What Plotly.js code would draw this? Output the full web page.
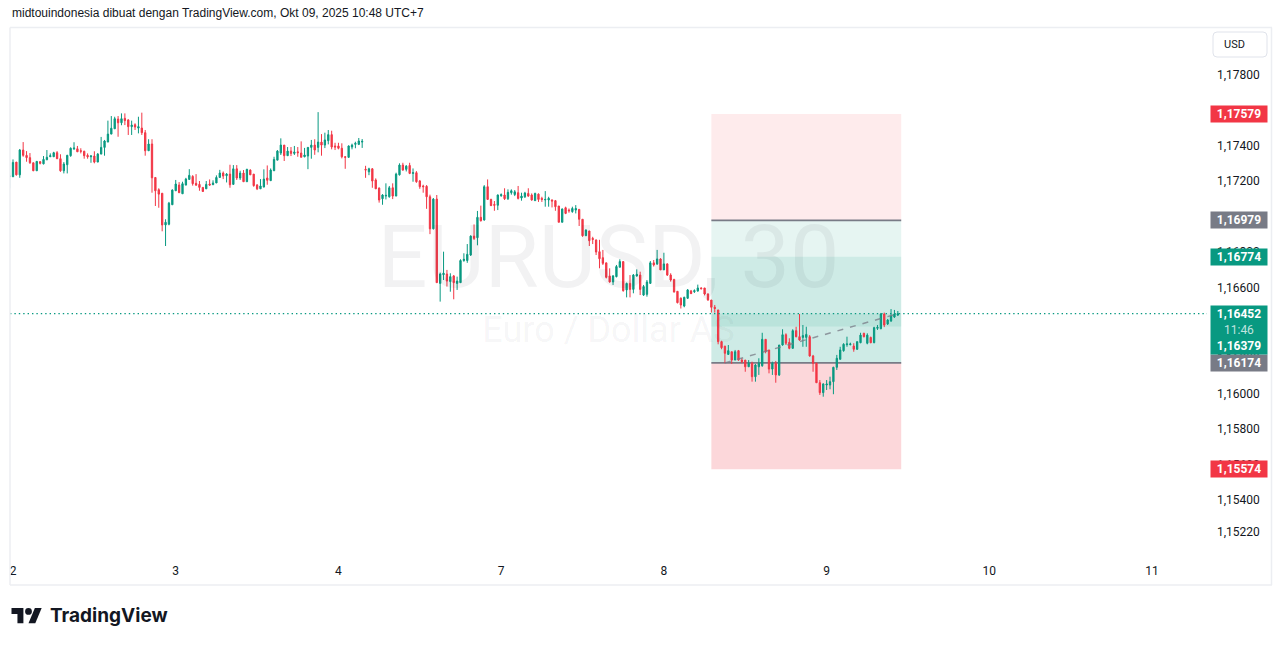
<!DOCTYPE html>
<html>
<head>
<meta charset="utf-8">
<script src="https://cdn.plot.ly/plotly-3.0.1.min.js"></script>
<style>
html,body{margin:0;padding:0;background:#ffffff;}
#chart{width:1281px;height:646px;}
</style>
</head>
<body>
<div id="chart"></div>
<script>
// ---------------- DATA (EURUSD, 30 min) ----------------
const firstBar = -1; // index of the first (partly hidden) bar; bar 0 = Oct 2, 00:00 UTC+7

const open = [
1.17225,1.17225,1.17308,1.17236,1.17376,1.17346,1.17333,1.17304,1.17259,1.17310,1.17298,
1.17321,1.17338,1.17338,1.17361,1.17327,1.17259,1.17293,1.17344,1.17383,1.17383,
1.17372,1.17369,1.17346,1.17338,1.17342,1.17308,1.17353,1.17391,1.17421,1.17466,
1.17496,1.17551,1.17530,1.17555,1.17546,1.17508,1.17519,1.17500,1.17500,1.17474,
1.17372,1.17410,1.17221,1.17152,1.17132,1.16953,1.16957,1.17067,1.17146,1.17178,
1.17129,1.17178,1.17210,1.17227,1.17188,1.17182,1.17165,1.17157,1.17184,1.17180,
1.17190,1.17221,1.17246,1.17231,1.17240,1.17182,1.17270,1.17218,1.17246,1.17197,
1.17263,1.17240,1.17178,1.17157,1.17167,1.17218,1.17203,1.17259,1.17319,1.17359,
1.17404,1.17344,1.17370,1.17357,1.17366,1.17359,1.17338,1.17342,1.17391,1.17404,
1.17391,1.17421,1.17404,1.17429,1.17463,1.17399,1.17399,1.17386,1.17338,1.17335,
1.17393,1.17408,1.17408,1.17421,1.17267,1.17253,1.17270,1.17207,1.17161,1.17101,
1.17116,1.17112,1.17163,1.17116,1.17236,1.17291,1.17267,1.17289,1.17244,1.17248,
1.17201,1.17173,1.17171,1.17112,1.16931,1.17099,1.16623,1.16672,1.16676,1.16633,
1.16665,1.16623,1.16627,1.16752,1.16752,1.16783,1.16890,1.16881,1.16996,1.16981,
1.17169,1.17097,1.17069,1.17064,1.17118,1.17122,1.17101,1.17135,1.17125,1.17135,
1.17105,1.17112,1.17131,1.17122,1.17090,1.17127,1.17103,1.17094,1.17094,1.17094,
1.17090,1.17060,1.16968,1.17050,1.17037,1.17028,1.17037,1.17041,1.16985,1.16892,
1.16919,1.16877,1.16868,1.16802,1.16768,1.16739,1.16665,1.16631,1.16661,1.16714,
1.16746,1.16586,1.16623,1.16589,1.16665,1.16670,1.16557,1.16561,1.16623,1.16739,
1.16733,1.16761,1.16699,1.16733,1.16670,1.16646,1.16578,1.16539,1.16495,1.16539,
1.16580,1.16576,1.16580,1.16597,1.16597,1.16563,1.16529,1.16488,1.16473,1.16294,
1.16268,1.16222,1.16237,1.16190,1.16243,1.16190,1.16190,1.16152,1.16172,1.16096,
1.16152,1.16158,1.16307,1.16247,1.16139,1.16172,1.16106,1.16275,1.16333,1.16290,
1.16256,1.16356,1.16322,1.16318,1.16318,1.16322,1.16213,1.16172,1.16062,1.16006,
1.16049,1.16049,1.16068,1.16149,1.16194,1.16243,1.16277,1.16277,1.16269,1.16251,
1.16288,1.16341,1.16285,1.16318,1.16288,1.16369,1.16367,1.16450,1.16394,1.16411,
1.16433,1.16444];

const high = [
1.17248,1.17323,1.17308,1.17382,1.17421,1.17370,1.17359,1.17304,1.17312,1.17314,1.17342,
1.17376,1.17357,1.17366,1.17370,1.17352,1.17308,1.17349,1.17391,1.17420,1.17399,
1.17386,1.17372,1.17357,1.17348,1.17369,1.17359,1.17450,1.17433,1.17542,1.17568,
1.17564,1.17568,1.17583,1.17583,1.17550,1.17542,1.17527,1.17564,1.17587,1.17489,
1.17437,1.17437,1.17221,1.17160,1.17132,1.16985,1.17083,1.17154,1.17207,1.17195,
1.17197,1.17219,1.17268,1.17234,1.17240,1.17201,1.17165,1.17201,1.17210,1.17205,
1.17233,1.17264,1.17255,1.17246,1.17293,1.17291,1.17291,1.17259,1.17263,1.17270,
1.17267,1.17240,1.17184,1.17212,1.17267,1.17289,1.17272,1.17338,1.17376,1.17442,
1.17404,1.17393,1.17393,1.17399,1.17393,1.17425,1.17388,1.17393,1.17433,1.17437,
1.17590,1.17466,1.17474,1.17489,1.17485,1.17417,1.17417,1.17414,1.17342,1.17402,
1.17412,1.17423,1.17444,1.17438,1.17287,1.17276,1.17274,1.17216,1.17165,1.17127,
1.17188,1.17173,1.17188,1.17248,1.17301,1.17304,1.17291,1.17304,1.17272,1.17257,
1.17207,1.17180,1.17178,1.17124,1.17105,1.17122,1.16684,1.16802,1.16699,1.16680,
1.16670,1.16661,1.16759,1.16793,1.16845,1.16894,1.16956,1.17032,1.17062,1.17178,
1.17210,1.17101,1.17088,1.17125,1.17131,1.17160,1.17154,1.17154,1.17150,1.17173,
1.17135,1.17140,1.17160,1.17131,1.17135,1.17131,1.17112,1.17144,1.17112,1.17097,
1.17094,1.17060,1.17046,1.17056,1.17046,1.17056,1.17065,1.17041,1.16985,1.16928,
1.16919,1.16886,1.16871,1.16869,1.16812,1.16739,1.16708,1.16670,1.16727,1.16759,
1.16746,1.16627,1.16670,1.16676,1.16702,1.16689,1.16614,1.16642,1.16749,1.16755,
1.16812,1.16765,1.16796,1.16736,1.16680,1.16646,1.16580,1.16544,1.16548,1.16591,
1.16586,1.16589,1.16616,1.16601,1.16597,1.16567,1.16529,1.16501,1.16473,1.16299,
1.16271,1.16275,1.16237,1.16247,1.16247,1.16200,1.16190,1.16190,1.16181,1.16168,
1.16200,1.16344,1.16307,1.16247,1.16181,1.16185,1.16275,1.16364,1.16341,1.16313,
1.16364,1.16378,1.16450,1.16388,1.16378,1.16331,1.16219,1.16175,1.16077,1.16059,
1.16077,1.16096,1.16152,1.16219,1.16265,1.16285,1.16322,1.16288,1.16285,1.16294,
1.16344,1.16344,1.16341,1.16322,1.16378,1.16388,1.16456,1.16458,1.16422,1.16478,
1.16473,1.16467];

const low = [
1.17160,1.17225,1.17232,1.17219,1.17338,1.17310,1.17298,1.17257,1.17259,1.17295,1.17295,
1.17319,1.17338,1.17338,1.17325,1.17253,1.17244,1.17244,1.17338,1.17376,1.17366,
1.17357,1.17327,1.17327,1.17304,1.17301,1.17308,1.17353,1.17344,1.17421,1.17466,
1.17496,1.17451,1.17516,1.17517,1.17461,1.17461,1.17489,1.17470,1.17461,1.17344,
1.17372,1.17135,1.17060,1.17050,1.16917,1.16834,1.16951,1.17067,1.17146,1.17135,
1.17129,1.17177,1.17210,1.17175,1.17173,1.17146,1.17140,1.17157,1.17175,1.17180,
1.17190,1.17221,1.17212,1.17193,1.17163,1.17182,1.17207,1.17207,1.17197,1.17197,
1.17236,1.17169,1.17150,1.17156,1.17165,1.17180,1.17203,1.17259,1.17319,1.17348,
1.17314,1.17344,1.17342,1.17348,1.17338,1.17335,1.17335,1.17268,1.17327,1.17349,
1.17363,1.17344,1.17387,1.17408,1.17380,1.17376,1.17380,1.17329,1.17270,1.17331,
1.17380,1.17386,1.17404,1.17388,1.17219,1.17234,1.17163,1.17157,1.17079,1.17067,
1.17097,1.17107,1.17099,1.17116,1.17232,1.17259,1.17255,1.17240,1.17197,1.17191,
1.17157,1.17135,1.17044,1.16901,1.16928,1.16627,1.16520,1.16642,1.16605,1.16576,
1.16533,1.16586,1.16627,1.16745,1.16739,1.16778,1.16868,1.16838,1.16972,1.16977,
1.17097,1.17060,1.17033,1.17037,1.17112,1.17094,1.17094,1.17124,1.17116,1.17097,
1.17090,1.17105,1.17112,1.17090,1.17090,1.17083,1.17083,1.17056,1.17056,1.17052,
1.17033,1.16968,1.16968,1.17014,1.17022,1.17022,1.17018,1.16947,1.16886,1.16892,
1.16834,1.16845,1.16783,1.16708,1.16727,1.16651,1.16627,1.16614,1.16657,1.16714,
1.16576,1.16544,1.16544,1.16567,1.16661,1.16557,1.16552,1.16548,1.16623,1.16718,
1.16727,1.16699,1.16699,1.16665,1.16633,1.16572,1.16510,1.16481,1.16488,1.16535,
1.16563,1.16569,1.16576,1.16589,1.16555,1.16525,1.16458,1.16458,1.16279,1.16251,
1.16172,1.16219,1.16168,1.16190,1.16186,1.16172,1.16124,1.16152,1.16068,1.16068,
1.16106,1.16152,1.16228,1.16115,1.16106,1.16062,1.16100,1.16271,1.16275,1.16251,
1.16256,1.16318,1.16299,1.16265,1.16265,1.16209,1.16124,1.16062,1.15993,1.15983,
1.16021,1.16025,1.15997,1.16134,1.16194,1.16237,1.16265,1.16273,1.16237,1.16247,
1.16285,1.16318,1.16279,1.16285,1.16285,1.16360,1.16364,1.16376,1.16388,1.16405,
1.16428,1.16439];

const close = [
1.17230,1.17306,1.17236,1.17376,1.17346,1.17333,1.17304,1.17259,1.17312,1.17301,1.17323,
1.17335,1.17344,1.17361,1.17327,1.17259,1.17297,1.17346,1.17386,1.17387,1.17366,
1.17369,1.17344,1.17338,1.17342,1.17308,1.17353,1.17391,1.17427,1.17466,1.17499,
1.17553,1.17530,1.17553,1.17542,1.17508,1.17517,1.17506,1.17508,1.17474,1.17372,
1.17410,1.17219,1.17146,1.17127,1.16953,1.16968,1.17076,1.17150,1.17184,1.17135,
1.17186,1.17212,1.17233,1.17186,1.17178,1.17165,1.17142,1.17182,1.17178,1.17190,
1.17221,1.17246,1.17229,1.17240,1.17180,1.17270,1.17218,1.17246,1.17197,1.17267,
1.17236,1.17175,1.17157,1.17173,1.17212,1.17205,1.17263,1.17323,1.17370,1.17404,
1.17344,1.17370,1.17357,1.17365,1.17361,1.17335,1.17348,1.17391,1.17404,1.17376,
1.17421,1.17404,1.17433,1.17463,1.17393,1.17393,1.17386,1.17338,1.17335,1.17399,
1.17404,1.17414,1.17427,1.17425,1.17263,1.17270,1.17201,1.17157,1.17094,1.17122,
1.17120,1.17163,1.17116,1.17240,1.17291,1.17263,1.17285,1.17244,1.17248,1.17197,
1.17169,1.17169,1.17112,1.16931,1.17099,1.16627,1.16676,1.16680,1.16636,1.16661,
1.16627,1.16636,1.16752,1.16759,1.16787,1.16890,1.16877,1.16996,1.16977,1.17169,
1.17097,1.17062,1.17064,1.17122,1.17124,1.17101,1.17137,1.17146,1.17140,1.17103,
1.17116,1.17133,1.17116,1.17094,1.17131,1.17097,1.17097,1.17097,1.17103,1.17088,
1.17056,1.16968,1.17043,1.17018,1.17033,1.17046,1.17046,1.16985,1.16892,1.16924,
1.16864,1.16871,1.16800,1.16762,1.16736,1.16657,1.16631,1.16665,1.16718,1.16746,
1.16582,1.16623,1.16589,1.16670,1.16674,1.16589,1.16605,1.16631,1.16739,1.16727,
1.16761,1.16699,1.16733,1.16670,1.16642,1.16574,1.16514,1.16501,1.16544,1.16586,
1.16565,1.16582,1.16597,1.16593,1.16563,1.16529,1.16488,1.16481,1.16294,1.16260,
1.16228,1.16243,1.16190,1.16237,1.16190,1.16181,1.16152,1.16172,1.16096,1.16162,
1.16172,1.16307,1.16237,1.16139,1.16172,1.16106,1.16275,1.16333,1.16285,1.16256,
1.16356,1.16322,1.16303,1.16328,1.16335,1.16213,1.16172,1.16062,1.16006,1.16055,
1.16055,1.16068,1.16149,1.16200,1.16247,1.16279,1.16281,1.16281,1.16251,1.16294,
1.16331,1.16322,1.16331,1.16288,1.16373,1.16375,1.16450,1.16388,1.16416,1.16439,
1.16450,1.16452];

// time axis: first bar of each labelled day
const dayTickBars   = [0, 48, 96, 144, 192, 240, 288, 336];
const dayTickLabels = ['2', '3', '4', '7', '8', '9', '10', '11'];

// price axis ticks
const priceTicks = [1.178, 1.176, 1.174, 1.172, 1.170, 1.168, 1.166, 1.164, 1.162, 1.160, 1.158, 1.156, 1.154, 1.1522];

// position tool (two overlapping risk/reward boxes)
const positionBars   = [206, 262];
const stopUpper      = 1.17579;
const entryShort     = 1.16979;
const targetLong     = 1.16774;
const lastPrice      = 1.16452;
const secondPrice    = 1.16379;
const entryLong      = 1.16174;
const stopLower      = 1.15574;
const tradeLineBars   = [210, 261];
const tradeLinePrices = [1.16174, 1.16452];
const barCountdown   = '11:46';

const headerText = 'midtouindonesia dibuat dengan TradingView.com, Okt 09, 2025 10:48 UTC+7';
const symbolText = 'EURUSD, 30';
const symbolDesc = 'Euro / Dollar AS';

// ---------------- LAYOUT HELPERS ----------------
const W = 1281, H = 646;
const M = {l: 10, r: 74, t: 27, b: 89};
const PW = W - M.l - M.r, PH = H - M.t - M.b;
const px2x = px => (px - M.l) / PW;
const py2y = py => (M.t + PH - py) / PH;
const xRange = [-0.885, 352.2];
const yRange = [1.150778, 1.180708];
const fmt = v => v.toFixed(5).replace('.', ',');

const UP = '#089981', DOWN = '#F23645', GREY = '#787B86', TXT = '#131722';
const FONT = 'Roboto, "Noto Sans", sans-serif';

const bars = open.map((_, i) => firstBar + i);

const traces = [
  {
    type: 'scatter', mode: 'text', hoverinfo: 'skip', showlegend: false, cliponaxis: false,
    x: [(xRange[0] + xRange[1]) / 2, (xRange[0] + xRange[1]) / 2],
    y: [yRange[0] + 0.551 * (yRange[1] - yRange[0]), yRange[0] + 0.4226 * (yRange[1] - yRange[0])],
    text: [symbolText, symbolDesc],
    textposition: 'middle center',
    textfont: {family: FONT, size: [88, 36], color: 'rgba(19,23,34,0.055)'}
  },
  {
    type: 'candlestick', x: bars, open: open, high: high, low: low, close: close,
    increasing: {line: {color: UP, width: 1}, fillcolor: UP},
    decreasing: {line: {color: DOWN, width: 1}, fillcolor: DOWN},
    whiskerwidth: 0, hoverinfo: 'skip', showlegend: false
  }
];

const shapes = [];
const rect = (y0, y1, fill) => shapes.push({type: 'rect', layer: 'below', xref: 'x', yref: 'y',
  x0: positionBars[0], x1: positionBars[1], y0: y0, y1: y1, fillcolor: fill, line: {width: 0}});
rect(entryShort, stopUpper, 'rgba(242,54,69,0.10)');
rect(targetLong, entryShort, 'rgba(8,153,129,0.10)');
rect(entryLong, targetLong, 'rgba(8,153,129,0.20)');
rect(secondPrice, lastPrice, 'rgba(8,153,129,0.10)');
rect(stopLower, entryLong, 'rgba(242,54,69,0.20)');
[entryShort, entryLong].forEach(p => shapes.push({type: 'line', layer: 'below', xref: 'x', yref: 'y',
  x0: positionBars[0], x1: positionBars[1], y0: p, y1: p, line: {color: GREY, width: 1.6}}));
shapes.push({type: 'line', layer: 'above', xref: 'x', yref: 'y',
  x0: tradeLineBars[0], x1: tradeLineBars[1], y0: tradeLinePrices[0], y1: tradeLinePrices[1],
  line: {color: 'rgba(120,123,134,0.75)', width: 1.5, dash: '6px,7px'}});
// last price line
shapes.push({type: 'line', layer: 'above', xref: 'paper', yref: 'y', x0: 0, x1: 1, y0: lastPrice, y1: lastPrice,
  line: {color: UP, width: 1.4, dash: '1.4px,3px'}});
// chart frame
const frameC = '#eceef2';
shapes.push({type: 'line', xref: 'paper', yref: 'paper', x0: px2x(10), x1: px2x(1272), y0: py2y(27.5), y1: py2y(27.5), line: {color: frameC, width: 1.5}});
shapes.push({type: 'line', xref: 'paper', yref: 'paper', x0: px2x(10), x1: px2x(1272), y0: py2y(585), y1: py2y(585), line: {color: frameC, width: 1.5}});
shapes.push({type: 'line', xref: 'paper', yref: 'paper', x0: px2x(10), x1: px2x(10), y0: py2y(27.5), y1: py2y(585), line: {color: frameC, width: 1.5}});
shapes.push({type: 'line', xref: 'paper', yref: 'paper', x0: px2x(1271.5), x1: px2x(1271.5), y0: py2y(27.5), y1: py2y(585), line: {color: frameC, width: 1.5}});
// USD button (rounded rect)
(function () {
  const x0 = 1213, x1 = 1267, y0 = 32, y1 = 57, r = 4;
  const P = (x, y) => px2x(x) + ',' + py2y(y);
  const d = 'M' + P(x0 + r, y0) + ' L' + P(x1 - r, y0) + ' Q' + P(x1, y0) + ' ' + P(x1, y0 + r) +
    ' L' + P(x1, y1 - r) + ' Q' + P(x1, y1) + ' ' + P(x1 - r, y1) + ' L' + P(x0 + r, y1) +
    ' Q' + P(x0, y1) + ' ' + P(x0, y1 - r) + ' L' + P(x0, y0 + r) + ' Q' + P(x0, y0) + ' ' + P(x0 + r, y0) + ' Z';
  shapes.push({type: 'path', xref: 'paper', yref: 'paper', path: d, line: {color: '#e0e3eb', width: 1}, fillcolor: 'rgba(0,0,0,0)'});
})();
// TradingView logo mark
(function () {
  const s = 0.85, ox = 11.5, oy = 604.6;
  const P = (u, v) => px2x(ox + u * s) + ',' + py2y(oy + v * s);
  const poly = pts => 'M' + pts.map(p => P(p[0], p[1])).join(' L') + ' Z';
  shapes.push({type: 'path', xref: 'paper', yref: 'paper', line: {width: 0}, fillcolor: '#131722',
    path: poly([[14, 22], [7, 22], [7, 11], [0, 11], [0, 4], [14, 4]])});
  shapes.push({type: 'path', xref: 'paper', yref: 'paper', line: {width: 0}, fillcolor: '#131722',
    path: poly([[28, 22], [20, 22], [27.5, 4], [35.5, 4]])});
  shapes.push({type: 'circle', xref: 'paper', yref: 'paper', line: {width: 0}, fillcolor: '#131722',
    x0: px2x(ox + 16 * s), x1: px2x(ox + 24 * s), y0: py2y(oy + 4 * s), y1: py2y(oy + 12 * s)});
})();

// price labels on the scale
const annotations = [];
const LBL_X = px2x(1210);
const priceLabel = (p, color) => annotations.push({xref: 'paper', yref: 'y', x: LBL_X, y: p, xanchor: 'left', yanchor: 'middle',
  text: '<b>' + fmt(p) + '</b>', showarrow: false, bgcolor: color, width: 54, height: 14, borderpad: 1,
  font: {family: FONT, size: 12, color: '#ffffff'}, align: 'center'});
priceLabel(stopUpper, DOWN);
priceLabel(entryShort, GREY);
priceLabel(targetLong, UP);
priceLabel(entryLong, GREY);
priceLabel(stopLower, DOWN);
annotations.push({xref: 'paper', yref: 'y', x: LBL_X, y: lastPrice, xanchor: 'left', yanchor: 'top', yshift: 8.7,
  text: '<b>' + fmt(lastPrice) + '</b><br><span style="color:rgba(255,255,255,0.75)">' + barCountdown + '</span><br><b>' + fmt(secondPrice) + '</b>',
  showarrow: false, bgcolor: UP, width: 54, height: 46, borderpad: 1, align: 'center',
  font: {family: FONT, size: 12, color: '#ffffff'}});
// USD
annotations.push({xref: 'paper', yref: 'paper', x: px2x(1222), y: py2y(44.5), xanchor: 'left', yanchor: 'middle',
  text: 'USD', showarrow: false, font: {family: FONT, size: 11, color: TXT}});
// header
annotations.push({xref: 'paper', yref: 'paper', x: px2x(10), y: py2y(13), xanchor: 'left', yanchor: 'middle',
  text: headerText, showarrow: false, font: {family: '"Liberation Sans", sans-serif', size: 12, color: TXT}});
// TradingView word mark
annotations.push({xref: 'paper', yref: 'paper', x: px2x(48), y: py2y(615.5), xanchor: 'left', yanchor: 'middle',
  text: '<b>TradingView</b>', showarrow: false, font: {family: 'Inter, sans-serif', size: 19, color: '#131722'}});

const layout = {
  width: W, height: H, margin: M,
  paper_bgcolor: '#ffffff', plot_bgcolor: '#ffffff',
  showlegend: false, hovermode: false, dragmode: false, boxgap: 0.45,
  xaxis: {range: xRange, tickvals: dayTickBars, ticktext: dayTickLabels, showgrid: false, zeroline: false,
    showline: false, ticks: '', rangeslider: {visible: false}, fixedrange: true, ticklabelstandoff: 5,
    tickfont: {family: FONT, size: 12, color: TXT}},
  yaxis: {range: yRange, side: 'right', tickvals: priceTicks, ticktext: priceTicks.map(fmt), showgrid: false,
    zeroline: false, showline: false, ticks: '', fixedrange: true, ticklabelstandoff: 9,
    tickfont: {family: FONT, size: 12, color: TXT}},
  shapes: shapes,
  annotations: annotations
};

Plotly.newPlot('chart', traces, layout, {displayModeBar: false, staticPlot: true});
</script>
</body>
</html>
